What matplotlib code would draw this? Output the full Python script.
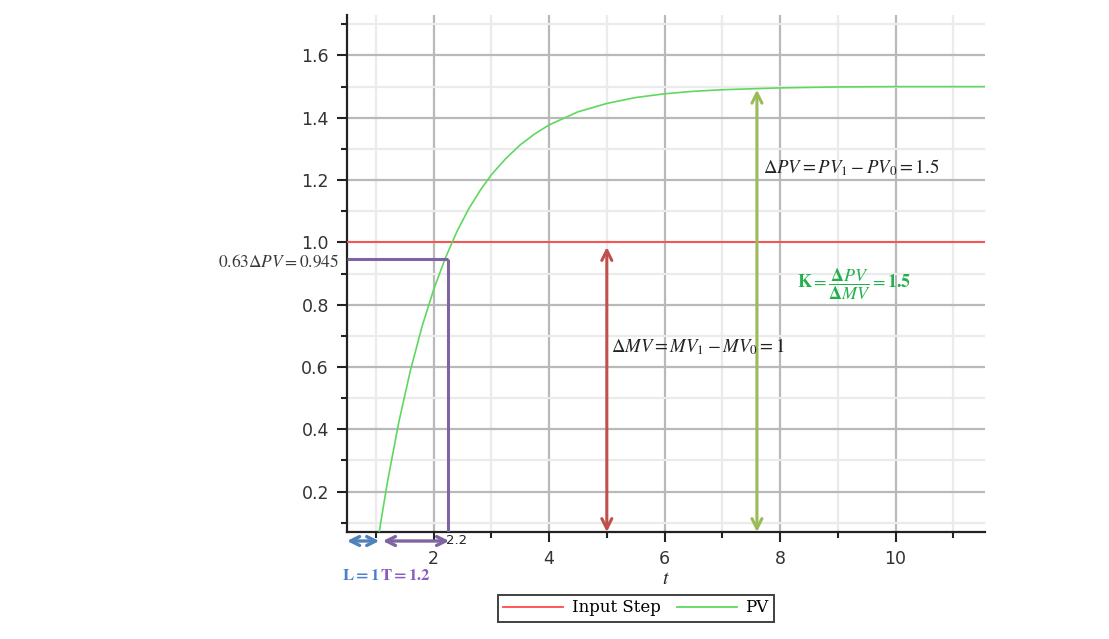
import matplotlib
matplotlib.use("Agg")
import matplotlib.pyplot as plt
from matplotlib.ticker import FixedLocator
from matplotlib.lines import Line2D

# ---- data ----
t_pv = [1.06, 1.2, 1.4, 1.6, 1.8, 2.0, 2.2, 2.4, 2.6, 2.8, 3.0, 3.25, 3.5, 3.75, 4.0,
        4.5, 5.0, 5.5, 6.0, 6.5, 7.0, 8.0, 9.0, 10.0, 11.6]
pv = [0.073, 0.230, 0.425, 0.590, 0.730, 0.848, 0.948, 1.033, 1.105, 1.165, 1.217,
      1.269, 1.313, 1.348, 1.377, 1.419, 1.446, 1.465, 1.477, 1.485, 1.490, 1.496,
      1.499, 1.500, 1.500]
step_t = [0.0, 12.0]
step_v = [1.0, 1.0]

x_ticks = [2, 4, 6, 8, 10]
y_ticks = [0.2, 0.4, 0.6, 0.8, 1.0, 1.2, 1.4, 1.6]

L_dead = 1.0
T_const = 1.2
t_63 = 2.2
pv_63 = 0.945
delta_mv = 1.0
delta_pv = 1.5
x_mv_arrow = 5.0
x_pv_arrow = 7.6

plt.rcParams['mathtext.fontset'] = 'stix'

fig = plt.figure(figsize=(11.09, 6.39), dpi=100)
ax = fig.add_axes([347/1109, 1 - 532/639, (985-347)/1109, (532-15)/639])

xmin, xmax = 0.5, 11.55
ymin, ymax = 0.07, 1.73
ax.set_xlim(xmin, xmax)
ax.set_ylim(ymin, ymax)

# grid
ax.xaxis.set_major_locator(FixedLocator(x_ticks))
ax.xaxis.set_minor_locator(FixedLocator([1, 3, 5, 7, 9, 11]))
ax.yaxis.set_major_locator(FixedLocator(y_ticks))
ax.yaxis.set_minor_locator(FixedLocator([0.1, 0.3, 0.5, 0.7, 0.9, 1.1, 1.3, 1.5, 1.7]))
ax.grid(which='major', color='#b9b9b9', linewidth=1.6, zorder=0)
ax.grid(which='minor', color='#ebebeb', linewidth=1.6, zorder=0)
ax.set_axisbelow(True)

for s in ['top', 'right']:
    ax.spines[s].set_visible(False)
for s in ['left', 'bottom']:
    ax.spines[s].set_linewidth(1.6)
    ax.spines[s].set_color('#222222')

ax.tick_params(axis='both', which='major', length=7, width=1.5, colors='#222222',
               labelsize=12.5, pad=6)
ax.tick_params(axis='both', which='minor', length=4, width=1.5, colors='#222222')
ax.set_xticklabels([str(v) for v in x_ticks])
ax.set_yticklabels([f"{v:.1f}" for v in y_ticks])
for lab in ax.get_xticklabels() + ax.get_yticklabels():
    lab.set_color('#333333')

# series
ax.plot(step_t, step_v, color='#ff4a4a', linewidth=1.3, zorder=3, label='Input Step')
ax.plot(t_pv, pv, color='#5fd85f', linewidth=1.2, zorder=3, label='PV')

# 63% construction lines
ax.plot([xmin, t_63 + 0.05], [pv_63, pv_63], color='#8064A2', linewidth=2.2, zorder=4,
        solid_capstyle='butt')
ax.plot([t_63 + 0.05, t_63 + 0.05], [pv_63, ymin], color='#8064A2', linewidth=2.2, zorder=4,
        solid_capstyle='butt')

# double arrows for delta MV and delta PV
ax.annotate('', xy=(x_mv_arrow, ymin), xytext=(x_mv_arrow, delta_mv - 0.015),
            arrowprops=dict(arrowstyle='<->', color='#C0504D', lw=2.2,
                            shrinkA=0, shrinkB=0, mutation_scale=18), zorder=5)
ax.annotate('', xy=(x_pv_arrow, ymin), xytext=(x_pv_arrow, delta_pv - 0.01),
            arrowprops=dict(arrowstyle='<->', color='#9BBB59', lw=2.2,
                            shrinkA=0, shrinkB=0, mutation_scale=18), zorder=5)

ax.text(5.08, 0.665, r'$\Delta MV = MV_1 - MV_0 = 1$', fontsize=13.5, color='#222222',
        ha='left', va='center', zorder=6)
ax.text(7.7, 1.24, r'$\Delta PV = PV_1 - PV_0 = 1.5$', fontsize=13.5, color='#222222',
        ha='left', va='center', zorder=6)
ax.text(8.3, 0.865,
        r'$\mathbf{K} = \dfrac{\mathbf{\Delta} PV}{\mathbf{\Delta} MV} = \mathbf{1.5}$',
        fontsize=13, color='#22b04c', ha='left', va='center', zorder=6)

# label left of axis
ax.text(-0.013, pv_63 - 0.008, r'$0.63\Delta PV = 0.945$', transform=ax.get_yaxis_transform(),
        fontsize=12.5, color='#3a3a3a', ha='right', va='center')

# arrows below the axis for L and T
trx = ax.get_xaxis_transform()
y_arr = -(541 - 532) / 517
ax.annotate('', xy=(xmin, y_arr), xytext=(L_dead + 0.06, y_arr), xycoords=trx, textcoords=trx,
            arrowprops=dict(arrowstyle='<->', color='#4F81BD', lw=2.4, shrinkA=0, shrinkB=0,
                            mutation_scale=16), annotation_clip=False)
ax.annotate('', xy=(L_dead + 0.12, y_arr), xytext=(L_dead + 0.12 + T_const - 0.05, y_arr),
            xycoords=trx, textcoords=trx,
            arrowprops=dict(arrowstyle='<->', color='#8064A2', lw=2.4, shrinkA=0, shrinkB=0,
                            mutation_scale=16), annotation_clip=False)
ax.text(2.4, y_arr, '2.2', transform=trx, fontsize=9.5, color='#222222', ha='center',
        va='center')
y_lab = -(575 - 532) / 517
ax.text(0.41, y_lab, r'$\mathbf{L = 1}$', transform=trx, fontsize=12,
        color='#4a7fd0', ha='left', va='center')
ax.text(1.08, y_lab, r'$\mathbf{T = 1.2}$', transform=trx, fontsize=12,
        color='#8a5cc0', ha='left', va='center')

ax.set_xlabel(r'$t$', fontsize=14, color='#222222', labelpad=1)

handles = [Line2D([], [], color='#ff4a4a', lw=1.3), Line2D([], [], color='#5fd85f', lw=1.3)]
leg = fig.legend(handles, ['Input Step', 'PV'], loc='center', ncol=2,
                 bbox_to_anchor=(636/1109, 1 - 608/639), frameon=True, fancybox=False,
                 prop={'family': 'DejaVu Serif', 'size': 12}, handlelength=3.6,
                 columnspacing=1.0, borderpad=0.3, handletextpad=0.5)
leg.get_frame().set_edgecolor('#111111')
leg.get_frame().set_linewidth(1.4)

fig.savefig('out.png', dpi=100)
